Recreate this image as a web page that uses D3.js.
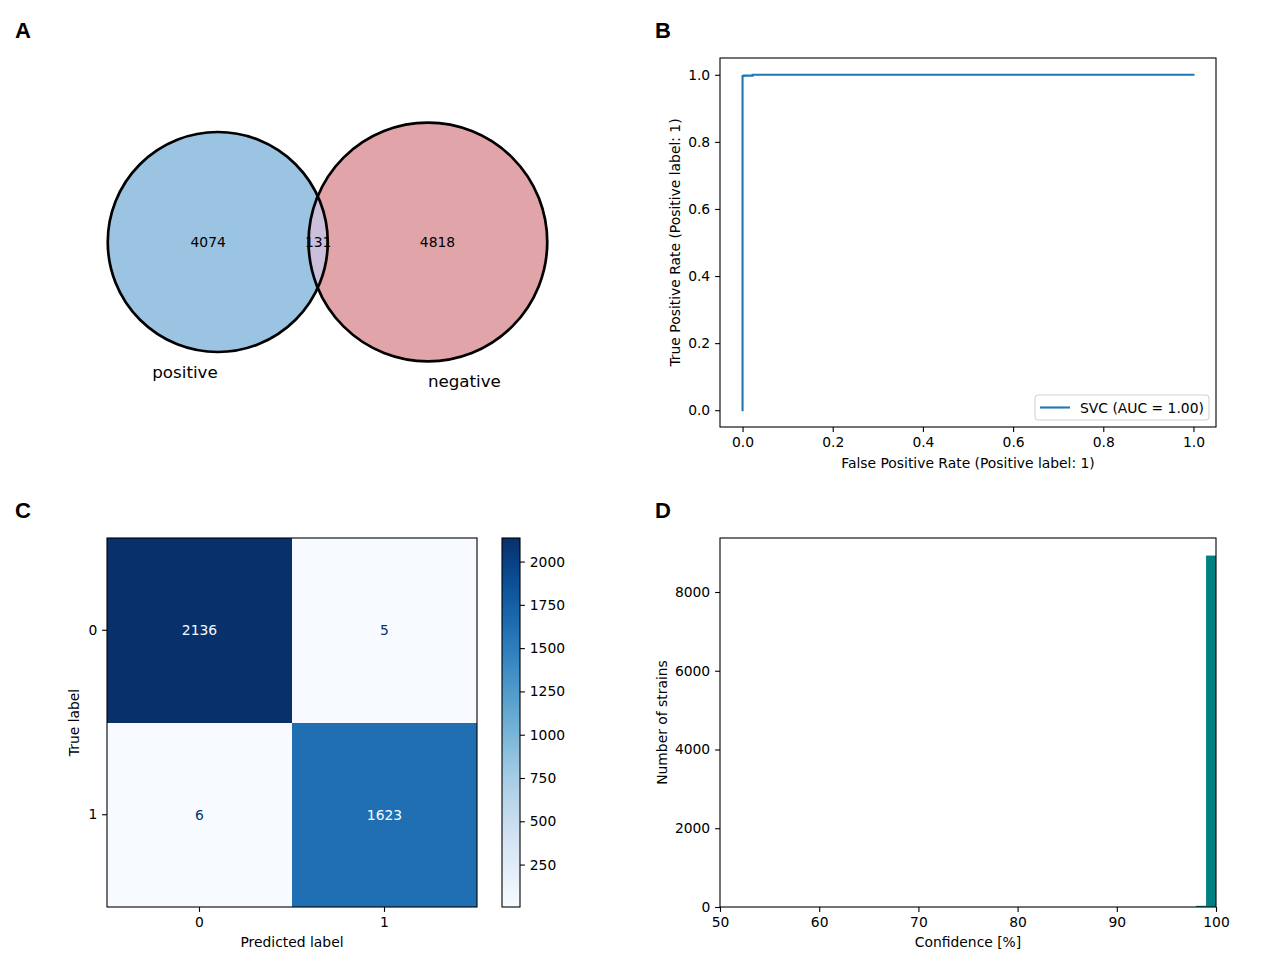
<!DOCTYPE html>
<html>
<head>
<meta charset="utf-8">
<script src="https://cdn.jsdelivr.net/npm/d3@7"></script>
<style>
  body { margin: 0; background: #fff; }
  svg { display: block; }
  text { font-family: "DejaVu Sans", sans-serif; }
</style>
</head>
<body>
<svg id="fig" width="1280" height="960"></svg>
<script>
// ---------------- DATA ----------------
// Panel A: Venn diagram
const vennSets = ["positive", "negative"];
const vennOnlyA = 4074;
const vennOnlyB = 4818;
const vennBoth = 131;

// Panel B: ROC curve
const rocFpr = [0, 0, 0.003, 0.003, 0.0225, 0.0225, 1.0];
const rocTpr = [0, 0.9965, 0.9965, 0.9975, 0.9975, 1.0, 1.0];
const rocLegend = "SVC (AUC = 1.00)";
const rocXTicks = [0.0, 0.2, 0.4, 0.6, 0.8, 1.0];
const rocYTicks = [0.0, 0.2, 0.4, 0.6, 0.8, 1.0];

// Panel C: confusion matrix
const cmLabels = [0, 1];
const cmValues = [[2136, 5], [6, 1623]];
const cbTicks = [250, 500, 750, 1000, 1250, 1500, 1750, 2000];

// Panel D: histogram of confidence
const histBinStart = [98, 99];
const histBinEnd = [99, 100];
const histCounts = [30, 8925];
const histXTicks = [50, 60, 70, 80, 90, 100];
const histYTicks = [0, 2000, 4000, 6000, 8000];

// ---------------- HELPERS ----------------
const svg = d3.select("#fig");
const FS = 13.89;       // 10pt at 100 dpi
const TICK = 4.9;       // 3.5pt
const PAD = 4.9;
const SPINE = 1.1;

function styleAxis(g) {
  g.selectAll("path.domain").remove();
  g.selectAll(".tick line").attr("stroke", "#000").attr("stroke-width", SPINE);
  g.selectAll(".tick text").attr("fill", "#000")
    .style("font-family", "DejaVu Sans, sans-serif").style("font-size", FS + "px");
}
function frame(x0, y0, x1, y1) {
  svg.append("rect").attr("x", x0).attr("y", y0).attr("width", x1 - x0).attr("height", y1 - y0)
    .attr("fill", "none").attr("stroke", "#000").attr("stroke-width", SPINE);
}
function panelLetter(t, x, y) {
  svg.append("text").attr("x", x).attr("y", y).text(t)
    .style("font-family", "Liberation Sans, Arial, sans-serif")
    .style("font-weight", "bold").style("font-size", "22px").attr("fill", "#000");
}
function label(t, x, y, rot) {
  const el = svg.append("text").attr("text-anchor", "middle").attr("dominant-baseline", "central")
    .style("font-size", FS + "px").attr("fill", "#000").text(t);
  if (rot) el.attr("transform", `translate(${x},${y}) rotate(-90)`);
  else el.attr("x", x).attr("y", y);
  return el;
}

panelLetter("A", 15, 38);
panelLetter("B", 655, 38);
panelLetter("C", 15, 518);
panelLetter("D", 655, 518);

// ---------------- PANEL A: VENN ----------------
(function () {
  const totA = vennOnlyA + vennBoth, totB = vennOnlyB + vennBoth;
  const rScale = d3.scaleSqrt().domain([0, totA]).range([0, 110]);
  const rA = rScale(totA), rB = rScale(totB);
  const areaPerUnit = Math.PI * rA * rA / totA;
  const targetLens = vennBoth * areaPerUnit;
  function lensArea(d) {
    if (d >= rA + rB) return 0;
    const a1 = Math.acos((d * d + rA * rA - rB * rB) / (2 * d * rA));
    const a2 = Math.acos((d * d + rB * rB - rA * rA) / (2 * d * rB));
    return rA * rA * (a1 - Math.sin(2 * a1) / 2) + rB * rB * (a2 - Math.sin(2 * a2) / 2);
  }
  let lo = Math.abs(rB - rA), hi = rA + rB;
  for (let i = 0; i < 60; i++) {
    const mid = (lo + hi) / 2;
    if (lensArea(mid) > targetLens) lo = mid; else hi = mid;
  }
  const d = (lo + hi) / 2;
  const cy = 242;
  const midX = 327.5;
  const left = midX - (rA + d + rB) / 2;
  const cxA = left + rA, cxB = cxA + d;

  const defs = svg.append("defs");
  defs.append("clipPath").attr("id", "clipA").append("circle").attr("cx", cxA).attr("cy", cy).attr("r", rA);

  svg.append("circle").attr("cx", cxA).attr("cy", cy).attr("r", rA).attr("fill", "#9ac4e2");
  svg.append("circle").attr("cx", cxB).attr("cy", cy).attr("r", rB).attr("fill", "#e1a5a9");
  svg.append("circle").attr("cx", cxB).attr("cy", cy).attr("r", rB).attr("fill", "#cbbfdc")
    .attr("clip-path", "url(#clipA)");
  svg.append("circle").attr("cx", cxA).attr("cy", cy).attr("r", rA).attr("fill", "none")
    .attr("stroke", "#000").attr("stroke-width", 2.7);
  svg.append("circle").attr("cx", cxB).attr("cy", cy).attr("r", rB).attr("fill", "none")
    .attr("stroke", "#000").attr("stroke-width", 2.7);

  const lensL = cxB - rB, lensR = cxA + rA;
  const regions = [
    { v: vennOnlyA, x: ((cxA - rA) + lensL) / 2 },
    { v: vennBoth, x: (lensL + lensR) / 2 },
    { v: vennOnlyB, x: (lensR + (cxB + rB)) / 2 }
  ];
  regions.forEach(r => label(String(r.v), r.x, cy));

  svg.append("text").attr("x", cxA).attr("y", cy + rA + 26).attr("text-anchor", "end")
    .style("font-size", "16.7px").attr("fill", "#000").text(vennSets[0]);
  svg.append("text").attr("x", cxB).attr("y", cy + rB + 26).attr("text-anchor", "start")
    .style("font-size", "16.7px").attr("fill", "#000").text(vennSets[1]);
})();

// ---------------- PANEL B: ROC ----------------
(function () {
  const x0 = 720, x1 = 1216, y0 = 58, y1 = 427;
  const x = d3.scaleLinear().domain([-0.05, 1.05]).range([x0, x1]);
  const y = d3.scaleLinear().domain([-0.05, 1.05]).range([y1, y0]);
  const pts = rocFpr.map((f, i) => [f, rocTpr[i]]);
  svg.append("path").datum(pts)
    .attr("d", d3.line().x(p => x(p[0])).y(p => y(p[1])))
    .attr("fill", "none").attr("stroke", "#1f77b4").attr("stroke-width", 2.1)
    .attr("stroke-linejoin", "miter").attr("stroke-linecap", "square");
  frame(x0, y0, x1, y1);
  svg.append("g").attr("transform", `translate(0,${y1})`)
    .call(d3.axisBottom(x).tickValues(rocXTicks).tickFormat(d3.format(".1f")).tickSizeInner(TICK).tickSizeOuter(0).tickPadding(PAD))
    .call(styleAxis);
  svg.append("g").attr("transform", `translate(${x0},0)`)
    .call(d3.axisLeft(y).tickValues(rocYTicks).tickFormat(d3.format(".1f")).tickSizeInner(TICK).tickSizeOuter(0).tickPadding(PAD))
    .call(styleAxis);
  label("False Positive Rate (Positive label: 1)", (x0 + x1) / 2, 463);
  label("True Positive Rate (Positive label: 1)", 675, (y0 + y1) / 2, true);

  // legend
  const lx = 1035, ly = 395, lw = 174, lh = 25;
  svg.append("rect").attr("x", lx).attr("y", ly).attr("width", lw).attr("height", lh)
    .attr("rx", 3).attr("fill", "#fff").attr("fill-opacity", 0.8).attr("stroke", "#d0d0d0").attr("stroke-width", 1);
  svg.append("line").attr("x1", lx + 5).attr("x2", lx + 35).attr("y1", ly + lh / 2).attr("y2", ly + lh / 2)
    .attr("stroke", "#1f77b4").attr("stroke-width", 2.1);
  svg.append("text").attr("x", lx + 45).attr("y", ly + lh / 2).attr("dominant-baseline", "central")
    .style("font-size", FS + "px").attr("fill", "#000").text(rocLegend);
})();

// ---------------- PANEL C: CONFUSION MATRIX ----------------
(function () {
  const x0 = 107, x1 = 477, y0 = 538, y1 = 907;
  const flat = cmValues.flat();
  const vmin = d3.min(flat), vmax = d3.max(flat);
  const color = d3.scaleSequential(d3.interpolateBlues).domain([vmin, vmax]);
  const band = d3.scaleBand().domain(cmLabels).range([x0, x1]);
  const bandY = d3.scaleBand().domain(cmLabels).range([y0, y1]);
  const thresh = (vmin + vmax) / 2;
  cmValues.forEach((row, i) => row.forEach((v, j) => {
    svg.append("rect").attr("x", band(cmLabels[j])).attr("y", bandY(cmLabels[i]))
      .attr("width", band.bandwidth()).attr("height", bandY.bandwidth())
      .attr("fill", color(v)).attr("shape-rendering", "crispEdges");
    label(String(v), band(cmLabels[j]) + band.bandwidth() / 2, bandY(cmLabels[i]) + bandY.bandwidth() / 2)
      .attr("fill", v > thresh ? color(vmin) : color(vmax));
  }));
  frame(x0, y0, x1, y1);
  svg.append("g").attr("transform", `translate(0,${y1})`)
    .call(d3.axisBottom(band).tickSizeInner(TICK).tickSizeOuter(0).tickPadding(PAD)).call(styleAxis);
  svg.append("g").attr("transform", `translate(${x0},0)`)
    .call(d3.axisLeft(bandY).tickSizeInner(TICK).tickSizeOuter(0).tickPadding(PAD)).call(styleAxis);
  label("Predicted label", (x0 + x1) / 2, 942);
  label("True label", 74, (y0 + y1) / 2, true);

  // colorbar
  const cx0 = 502, cx1 = 520;
  const cy = d3.scaleLinear().domain([vmin, vmax]).range([y1, y0]);
  const grad = svg.append("defs").append("linearGradient").attr("id", "cbgrad")
    .attr("x1", 0).attr("y1", 1).attr("x2", 0).attr("y2", 0);
  d3.range(0, 1.0001, 0.05).forEach(t => {
    grad.append("stop").attr("offset", t).attr("stop-color", color(vmin + t * (vmax - vmin)));
  });
  svg.append("rect").attr("x", cx0).attr("y", y0).attr("width", cx1 - cx0).attr("height", y1 - y0)
    .attr("fill", "url(#cbgrad)");
  frame(cx0, y0, cx1, y1);
  svg.append("g").attr("transform", `translate(${cx1},0)`)
    .call(d3.axisRight(cy).tickValues(cbTicks).tickSizeInner(TICK).tickSizeOuter(0).tickPadding(PAD).tickFormat(d3.format("d")))
    .call(styleAxis);
})();

// ---------------- PANEL D: HISTOGRAM ----------------
(function () {
  const x0 = 720, x1 = 1216, y0 = 538, y1 = 907;
  const x = d3.scaleLinear().domain([50, 100]).range([x0, x1]);
  const y = d3.scaleLinear().domain([0, d3.max(histCounts) * 1.05]).range([y1, y0]);
  histCounts.forEach((c, i) => {
    svg.append("rect").attr("x", x(histBinStart[i])).attr("y", y(c))
      .attr("width", x(histBinEnd[i]) - x(histBinStart[i])).attr("height", y(0) - y(c))
      .attr("fill", "#008080");
  });
  frame(x0, y0, x1, y1);
  svg.append("g").attr("transform", `translate(0,${y1})`)
    .call(d3.axisBottom(x).tickValues(histXTicks).tickFormat(d3.format("d")).tickSizeInner(TICK).tickSizeOuter(0).tickPadding(PAD))
    .call(styleAxis);
  svg.append("g").attr("transform", `translate(${x0},0)`)
    .call(d3.axisLeft(y).tickValues(histYTicks).tickFormat(d3.format("d")).tickSizeInner(TICK).tickSizeOuter(0).tickPadding(PAD))
    .call(styleAxis);
  label("Confidence [%]", (x0 + x1) / 2, 942);
  label("Number of strains", 662, (y0 + y1) / 2, true);
})();
</script>
</body>
</html>
